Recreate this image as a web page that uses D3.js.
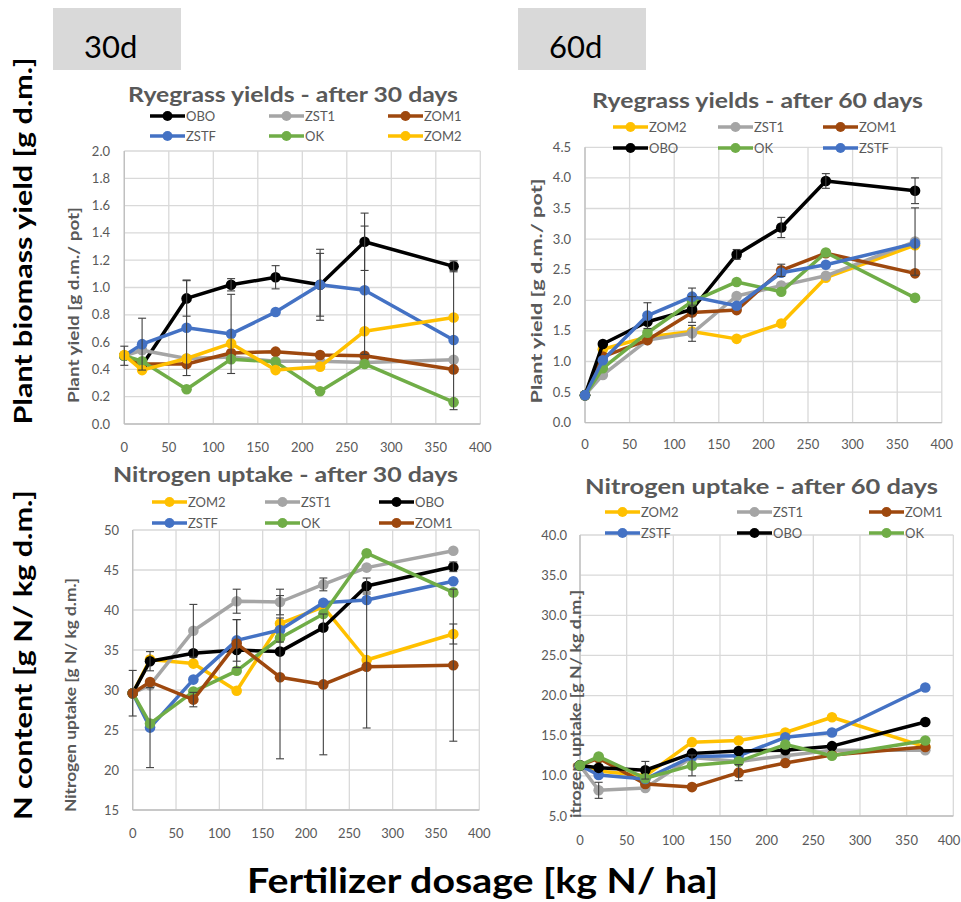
<!DOCTYPE html>
<html>
<head>
<meta charset="utf-8">
<script src="https://cdn.jsdelivr.net/npm/d3@7"></script>
<style>
  html, body { margin: 0; padding: 0; background: #fff; }
  svg { display: block; font-family: Lato, "Open Sans", sans-serif; }
</style>
</head>
<body>
<svg id="chart" width="961" height="902"></svg>
<script>
// Fertilizer dosage levels [kg N/ha]
const doses = [0, 20, 70, 120, 170, 220, 270, 370];

// Ryegrass yield after 30 days [g d.m./pot]
const yield30OBO  = [0.50, 0.43, 0.92, 1.02, 1.075, 1.02, 1.335, 1.155];
const yield30ZST1 = [0.50, 0.54, 0.48, 0.49, 0.46, 0.46, 0.45, 0.47];
const yield30ZOM1 = [0.50, 0.44, 0.44, 0.52, 0.53, 0.505, 0.50, 0.40];
const yield30ZSTF = [0.50, 0.585, 0.705, 0.66, 0.82, 1.02, 0.98, 0.615];
const yield30OK   = [0.50, 0.46, 0.255, 0.475, 0.455, 0.24, 0.44, 0.16];
const yield30ZOM2 = [0.505, 0.395, 0.48, 0.59, 0.395, 0.42, 0.68, 0.78];
const yield30OBOErr  = [0.07, null, 0.13, 0.045, 0.085, 0.26, 0.21, 0.04];
const yield30ZSTFErr = [null, 0.19, 0.35, 0.29, null, 0.23, 0.47, 0.51];

// Ryegrass yield after 60 days [g d.m./pot]
const yield60ZOM2 = [0.45, 1.20, 1.40, 1.49, 1.37, 1.62, 2.37, 2.90];
const yield60ZST1 = [0.45, 0.78, 1.35, 1.46, 2.07, 2.24, 2.40, 2.96];
const yield60ZOM1 = [0.45, 1.08, 1.35, 1.80, 1.84, 2.49, 2.77, 2.44];
const yield60OBO  = [0.45, 1.285, 1.65, 1.85, 2.75, 3.19, 3.95, 3.79];
const yield60OK   = [0.45, 0.89, 1.47, 1.98, 2.30, 2.14, 2.78, 2.04];
const yield60ZSTF = [0.45, 1.02, 1.75, 2.06, 1.91, 2.45, 2.58, 2.93];
const yield60OBOErr  = [null, null, null, 0.21, 0.08, 0.165, 0.12, 0.21];
const yield60ZST1Err = [null, null, null, 0.13, null, null, null, 0.55];
const yield60ZSTFErr = [null, null, 0.21, 0.14, null, null, null, null];
const yield60ZOM1Err = [null, null, null, null, null, 0.1, null, null];

// Nitrogen uptake after 30 days [g N/kg d.m.]
const nitro30ZOM2 = [29.6, 33.8, 33.3, 29.9, 38.3, 40.4, 33.75, 37.0];
const nitro30ZST1 = [29.6, 30.6, 37.4, 41.1, 41.0, 43.2, 45.3, 47.4];
const nitro30OBO  = [29.6, 33.6, 34.6, 35.0, 34.8, 37.8, 43.0, 45.4];
const nitro30ZSTF = [29.6, 25.3, 31.3, 36.2, 37.5, 40.9, 41.25, 43.6];
const nitro30OK   = [29.6, 25.8, 29.8, 32.4, 36.5, 39.5, 47.1, 42.2];
const nitro30ZOM1 = [29.6, 31.0, 28.8, 35.8, 31.6, 30.7, 32.9, 33.1];
const nitro30ZST1Err = [2.85, null, 3.3, 1.5, 1.6, 0.8, null, null];
const nitro30OBOErr  = [null, 1.2, null, null, null, null, 1.0, 0.6];
const nitro30ZSTFErr = [null, 5.0, null, 2.6, 1.5, null, null, null];
const nitro30ZOM1Err = [null, null, 0.9, 3.0, 10.2, 8.8, null, 9.5];
const nitro30ZOM2Err = [null, null, null, null, null, null, 8.5, 1.25];

// Nitrogen uptake after 60 days [g N/kg d.m.]
const nitro60ZOM2 = [11.3, 10.6, 10.0, 14.2, 14.4, 15.4, 17.3, 13.6];
const nitro60ZST1 = [11.3, 8.2, 8.5, 12.3, 11.8, 12.5, 13.2, 13.2];
const nitro60ZOM1 = [11.3, 12.2, 9.0, 8.6, 10.4, 11.6, 12.6, 13.6];
const nitro60ZSTF = [11.3, 10.1, 9.6, 12.4, 12.5, 14.8, 15.4, 21.0];
const nitro60OBO  = [11.3, 11.0, 10.7, 12.8, 13.1, 13.2, 13.7, 16.7];
const nitro60OK   = [11.3, 12.4, 9.7, 11.3, 11.8, 13.9, 12.5, 14.4];
const nitro60ZST1Err = [null, 1.0, null, null, null, null, null, null];
const nitro60OBOErr  = [null, null, 1.1, null, null, null, null, null];
const nitro60OKErr   = [null, null, null, 1.3, null, null, null, null];
const nitro60ZOM1Err = [null, null, null, null, 1.0, null, null, null];

const colors = {
  OBO: "#000000", ZST1: "#a5a5a5", ZOM1: "#9e480e",
  ZSTF: "#4472c4", OK: "#70ad47", ZOM2: "#ffc000"
};
const textGray = "#595959";
const gridGray = "#d9d9d9";
const pageWidth = 961;

const svg = d3.select("#chart");

// Day labels in grey boxes
[{ x: 53, label: "30d" }, { x: 518, label: "60d" }].forEach(b => {
  svg.append("rect").attr("x", b.x).attr("y", 8).attr("width", 128).attr("height", 62)
    .attr("fill", "#d9d9d9");
  svg.append("text").attr("x", b.x + 31).attr("y", 58)
    .attr("font-size", 31).attr("fill", "#000").text(b.label);
});

const panels = [
  {
    title: "Ryegrass yields - after 30 days", tx: 128, ty: 102, tw: 330,
    series: [["OBO", yield30OBO, yield30OBOErr], ["ZST1", yield30ZST1], ["ZOM1", yield30ZOM1],
             ["ZSTF", yield30ZSTF, yield30ZSTFErr], ["OK", yield30OK], ["ZOM2", yield30ZOM2]],
    legendCols: [150, 269, 388], legendRows: [116, 136],
    x0: 124.3, x1: 480.3, y0: 424, y1: 151, yMax: 2.0, yStep: 0.2, fmt: d3.format(".1f"),
    yLabelX: 110, xLabelY: 447,
    yTitle: "Plant yield [g d.m./ pot]", yTitleX: 79, yTitleY: 305, yTitleLen: 196
  },
  {
    title: "Ryegrass yields - after 60 days", tx: 592, ty: 108, tw: 331,
    series: [["ZOM2", yield60ZOM2], ["ZST1", yield60ZST1, yield60ZST1Err], ["ZOM1", yield60ZOM1, yield60ZOM1Err],
             ["OBO", yield60OBO, yield60OBOErr], ["OK", yield60OK], ["ZSTF", yield60ZSTF, yield60ZSTFErr]],
    legendCols: [613, 718, 823], legendRows: [127, 148],
    x0: 585, x1: 941.8, y0: 422.7, y1: 147.3, yMax: 4.5, yStep: 0.5, fmt: d3.format(".1f"),
    yLabelX: 571, xLabelY: 444,
    yTitle: "Plant yield [g d.m./ pot]", yTitleX: 542, yTitleY: 291, yTitleLen: 225
  },
  {
    title: "Nitrogen uptake - after 30 days", tx: 113, ty: 482, tw: 345,
    series: [["ZOM2", nitro30ZOM2, nitro30ZOM2Err], ["ZST1", nitro30ZST1, nitro30ZST1Err], ["OBO", nitro30OBO, nitro30OBOErr],
             ["ZSTF", nitro30ZSTF, nitro30ZSTFErr], ["OK", nitro30OK], ["ZOM1", nitro30ZOM1, nitro30ZOM1Err]],
    legendCols: [152, 265, 379], legendRows: [502, 523],
    x0: 132.7, x1: 479.3, y0: 810, y1: 530, yMin: 15, yMax: 50, yStep: 5, fmt: d3.format("d"),
    yLabelX: 119, xLabelY: 833,
    yTitle: "Nitrogen uptake [g N/ kg d.m.]", yTitleX: 76, yTitleY: 695, yTitleLen: 234
  },
  {
    title: "Nitrogen uptake - after 60 days", tx: 585, ty: 494, tw: 353,
    series: [["ZOM2", nitro60ZOM2], ["ZST1", nitro60ZST1, nitro60ZST1Err], ["ZOM1", nitro60ZOM1, nitro60ZOM1Err],
             ["ZSTF", nitro60ZSTF], ["OBO", nitro60OBO, nitro60OBOErr], ["OK", nitro60OK, nitro60OKErr]],
    legendCols: [605, 737, 869], legendRows: [512, 533],
    x0: 580, x1: 953.3, y0: 816, y1: 535, yMin: 5, yMax: 40, yStep: 5, fmt: d3.format(".1f"),
    yLabelX: 567, xLabelY: 840,
    yTitle: "itrogen uptake [g N/ kg d.m.]", yTitleX: 581, yTitleY: 704, yTitleLen: 228
  }
];

panels.forEach(p => {
  const g = svg.append("g");
  const yMin = p.yMin || 0;
  const x = d3.scaleLinear().domain([0, 400]).range([p.x0, p.x1]);
  const y = d3.scaleLinear().domain([yMin, p.yMax]).range([p.y0, p.y1]);
  const yTicks = d3.range(yMin, p.yMax + p.yStep / 2, p.yStep);
  const xTicks = d3.range(0, 401, 50);

  // gridlines
  g.append("g").selectAll("line").data(yTicks).join("line")
    .attr("x1", p.x0).attr("x2", p.x1).attr("y1", d => y(d)).attr("y2", d => y(d))
    .attr("stroke", gridGray).attr("stroke-width", 1.3);
  g.append("g").selectAll("line").data(xTicks).join("line")
    .attr("x1", d => x(d)).attr("x2", d => x(d)).attr("y1", p.y0).attr("y2", p.y1)
    .attr("stroke", gridGray).attr("stroke-width", 1.3);
  // axis lines
  g.append("line").attr("x1", p.x0).attr("x2", p.x1).attr("y1", p.y0).attr("y2", p.y0)
    .attr("stroke", "#bfbfbf").attr("stroke-width", 1.3);
  g.append("line").attr("x1", p.x0).attr("x2", p.x0).attr("y1", p.y0).attr("y2", p.y1)
    .attr("stroke", "#bfbfbf").attr("stroke-width", 1.3);

  // tick labels
  g.append("g").selectAll("text").data(yTicks).join("text")
    .attr("x", p.yLabelX).attr("y", d => y(d)).attr("dy", "0.35em")
    .attr("text-anchor", "end").attr("font-size", 13).attr("fill", textGray)
    .text(d => p.fmt(d));
  g.append("g").selectAll("text").data(xTicks).join("text")
    .attr("x", d => Math.min(x(d), pageWidth - 12)).attr("y", p.xLabelY).attr("dy", "0.35em")
    .attr("text-anchor", "middle").attr("font-size", 13).attr("fill", textGray)
    .text(d => d);

  // title
  g.append("text").attr("x", p.tx).attr("y", p.ty)
    .attr("font-size", 20).attr("font-weight", "bold").attr("fill", textGray)
    .attr("textLength", p.tw).attr("lengthAdjust", "spacingAndGlyphs")
    .text(p.title);

  // y-axis title
  g.append("text")
    .attr("transform", `translate(${p.yTitleX},${p.yTitleY}) rotate(-90)`)
    .attr("text-anchor", "middle").attr("font-size", 15).attr("font-weight", "bold")
    .attr("fill", textGray).attr("textLength", p.yTitleLen).attr("lengthAdjust", "spacingAndGlyphs")
    .text(p.yTitle);

  // legend
  p.series.forEach(([name], i) => {
    const lx = p.legendCols[i % 3], ly = p.legendRows[Math.floor(i / 3)];
    g.append("line").attr("x1", lx).attr("x2", lx + 35).attr("y1", ly).attr("y2", ly)
      .attr("stroke", colors[name]).attr("stroke-width", 3.5);
    g.append("circle").attr("cx", lx + 17.5).attr("cy", ly).attr("r", 5).attr("fill", colors[name]);
    g.append("text").attr("x", lx + 36).attr("y", ly).attr("dy", "0.36em")
      .attr("font-size", 13).attr("fill", textGray).text(name);
  });

  // series lines and markers
  const line = d3.line().x(d => x(d[0])).y(d => y(d[1]));
  p.series.forEach(([name, vals]) => {
    const pts = doses.map((d, i) => [d, vals[i]]);
    g.append("path").datum(pts).attr("d", line).attr("fill", "none")
      .attr("stroke", colors[name]).attr("stroke-width", 3.5).attr("stroke-linejoin", "round");
    g.append("g").selectAll("circle").data(pts).join("circle")
      .attr("cx", d => x(d[0])).attr("cy", d => y(d[1])).attr("r", 5.3)
      .attr("fill", colors[name]);
  });

  // error bars
  p.series.forEach(([name, vals, errs]) => {
    if (!errs) return;
    const eb = doses.map((d, i) => ({ d, v: vals[i], e: errs[i] })).filter(o => o.e != null);
    const eg = g.append("g").attr("stroke", "#404040").attr("stroke-width", 1.1);
    eb.forEach(o => {
      const cx = x(o.d), top = y(o.v + o.e), bot = y(Math.max(yMin, o.v - o.e));
      eg.append("line").attr("x1", cx).attr("x2", cx).attr("y1", top).attr("y2", bot);
      eg.append("line").attr("x1", cx - 4).attr("x2", cx + 4).attr("y1", top).attr("y2", top);
      eg.append("line").attr("x1", cx - 4).attr("x2", cx + 4).attr("y1", bot).attr("y2", bot);
    });
  });
});

// Shared axis titles
svg.append("text").attr("transform", "translate(32,241) rotate(-90)")
  .attr("text-anchor", "middle").attr("font-size", 25).attr("font-weight", "bold").attr("fill", "#000")
  .attr("textLength", 367).attr("lengthAdjust", "spacingAndGlyphs")
  .text("Plant biomass yield [g d.m.]");
svg.append("text").attr("transform", "translate(32,655) rotate(-90)")
  .attr("text-anchor", "middle").attr("font-size", 25).attr("font-weight", "bold").attr("fill", "#000")
  .attr("textLength", 330).attr("lengthAdjust", "spacingAndGlyphs")
  .text("N content [g N/ kg d.m.]");
svg.append("text").attr("x", 482.5).attr("y", 893)
  .attr("text-anchor", "middle").attr("font-size", 34).attr("font-weight", "bold").attr("fill", "#000")
  .attr("textLength", 471).attr("lengthAdjust", "spacingAndGlyphs")
  .text("Fertilizer dosage [kg N/ ha]");
</script>
</body>
</html>
